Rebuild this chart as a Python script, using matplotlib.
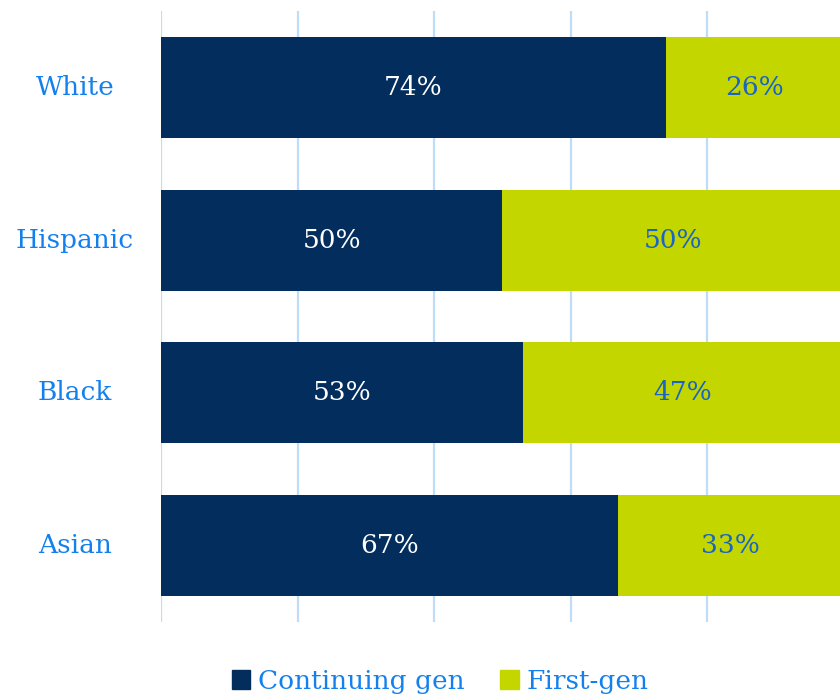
import matplotlib
matplotlib.use('Agg')
from matplotlib import pyplot as plt
from matplotlib.patches import Patch

groups = ['White', 'Hispanic', 'Black', 'Asian']
continuing = [74, 50, 53, 67]
first_gen = [26, 50, 47, 33]
series_names = ['Continuing gen', 'First-gen']

navy = '#022d5d'
lime = '#c3d600'
label_blue = '#1380ee'
text_on_lime = '#1a64c4'
grid_blue = '#bfddf7'

plt.rcParams['font.family'] = ['DejaVu Serif']

fig = plt.figure(figsize=(8.4, 6.96), dpi=100)
# axes run a little past the right edge of the figure
ax = fig.add_axes([161 / 840, 74 / 696, 682.5 / 840, 611 / 696])

ypos = list(range(len(groups)))
ax.barh(ypos, continuing, height=0.66, color=navy, zorder=3)
ax.barh(ypos, first_gen, left=continuing, height=0.66, color=lime, zorder=3)

for y, c, f in zip(ypos, continuing, first_gen):
    ax.text(c / 2, y, f'{c}%', ha='center', va='center', color='white',
            fontsize=19, zorder=4)
    ax.text(c + f / 2, y, f'{f}%', ha='center', va='center', color=text_on_lime,
            fontsize=19, zorder=4)
    ax.text(-12.6, y, groups[y], ha='center', va='center', color=label_blue,
            fontsize=19)

ax.set_xlim(0, 100)
ax.set_ylim(3.5, -0.5)
ax.set_xticks([0, 20, 40, 60, 80, 100])
ax.set_yticks([])
ax.tick_params(axis='x', length=0, labelbottom=False)
ax.grid(axis='x', color=grid_blue, linewidth=1.6, zorder=0)
for s in ax.spines.values():
    s.set_visible(False)

handles = [Patch(color=navy), Patch(color=lime)]
leg = fig.legend(handles, series_names, loc='upper center',
                 bbox_to_anchor=(0.524, 1 - 645 / 696), ncol=2, frameon=False,
                 fontsize=19, handlelength=0.7, handleheight=0.7,
                 handletextpad=0.3, columnspacing=1.35)
for t in leg.get_texts():
    t.set_color(label_blue)

fig.savefig('out.png', dpi=100)
